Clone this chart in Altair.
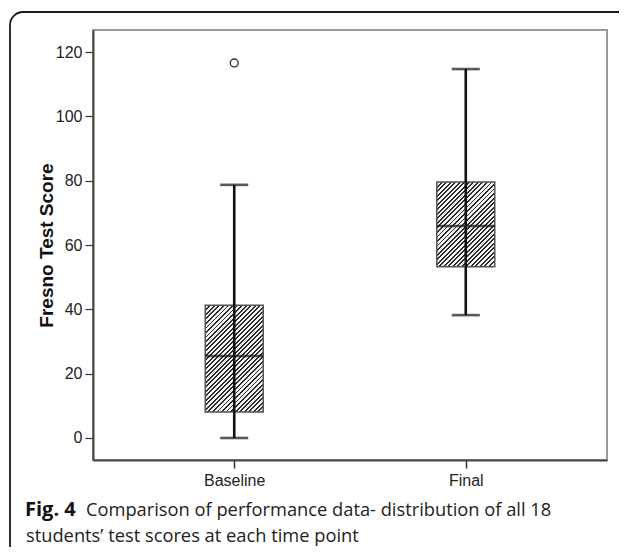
import altair as alt
import pandas as pd

# ---- data ----
groups = ["Baseline", "Final"]
lower_whisker = [0.0, 38.2]
q1 = [8.1, 53.2]
median = [25.5, 65.9]
q3 = [41.3, 79.6]
upper_whisker = [78.7, 114.7]
outlier_group = ["Baseline"]
outlier_value = [116.6]

y_ticks = [0, 20, 40, 60, 80, 100, 120]
y_title = "Fresno Test Score"
caption_label = "Fig. 4"
caption_line1 = "Comparison of performance data- distribution of all 18"
caption_line2 = "students\u2019 test scores at each time point"

# ---- layout / style ----
PLOT_W, PLOT_H = 514, 430
Y_MIN, Y_MAX = -6.84, 126.84
BOX_W = 58
CAP_W = 28
AXIS_FONT = "Liberation Sans"
CAP_FONT = "Open Sans"

df = pd.DataFrame({"group": groups, "low": lower_whisker, "q1": q1,
                   "median": median, "q3": q3, "high": upper_whisker})
out_df = pd.DataFrame({"group": outlier_group, "value": outlier_value})

xscale = alt.Scale(type="point", domain=groups, padding=0.61)
yscale = alt.Scale(domain=[Y_MIN, Y_MAX], nice=False, zero=False)
xaxis = alt.Axis(title=None, labelFont=AXIS_FONT, labelFontSize=16, labelColor="#222",
                 labelAngle=0, labelBaseline="top", labelAlign="center",
                 tickColor="#333", tickSize=8, tickWidth=1.5, domainColor="#444",
                 domainWidth=2, labelPadding=4, grid=False)
yaxis = alt.Axis(title=y_title, values=y_ticks, labelFont=AXIS_FONT, labelFontSize=16,
                 labelColor="#222", tickColor="#333", tickSize=8, tickWidth=1.2,
                 domainColor="#444", domainWidth=2, labelPadding=3, grid=False,
                 titleFont=AXIS_FONT, titleFontSize=19, titleFontWeight="bold",
                 titleColor="#111", titleX=-41, titleY=PLOT_H / 2, titleAngle=-90,
                 titleAlign="center", titleBaseline="alphabetic")

X = lambda: alt.X("group:N", scale=xscale, axis=xaxis)
Y = lambda f: alt.Y(f"{f}:Q", scale=yscale, axis=yaxis)

px_per_unit = PLOT_H / (Y_MAX - Y_MIN)


def hatch(w, h, period=3.2, dark_frac=0.42, dark="#2a2a2a", light="#f4f4f4"):
    s = (w + h) / (w * w + h * h)
    n = (w + h) / (2 ** 0.5 * period)
    step = 1.0 / n
    stops = []
    k = 0
    while k * step < 1.0:
        a = k * step
        b = min(a + dark_frac * step, 1.0)
        c = min(a + step, 1.0)
        stops += [alt.GradientStop(offset=a, color=dark),
                  alt.GradientStop(offset=b, color=dark),
                  alt.GradientStop(offset=b, color=light),
                  alt.GradientStop(offset=c, color=light)]
        k += 1
    return alt.LinearGradient(gradient="linear", stops=stops,
                              x1=0, y1=0, x2=s * w, y2=s * h)


base = alt.Chart(df)

boxes = []
for i, g in enumerate(groups):
    h = (q3[i] - q1[i]) * px_per_unit
    boxes.append(
        base.transform_filter(alt.datum.group == g)
        .mark_bar(size=BOX_W, fill=hatch(BOX_W, h), stroke="#555", strokeWidth=1.5)
        .encode(x=X(), y=Y("q1"), y2="q3")
    )

whisker = base.mark_rule(color="#111", strokeWidth=2.6).encode(x=X(), y=Y("low"), y2="high")
med = base.mark_tick(color="#111", size=BOX_W, thickness=2.6).encode(x=X(), y=Y("median"))
cap_lo = base.mark_tick(color="#111", size=CAP_W, thickness=2.6).encode(x=X(), y=Y("low"))
cap_hi = base.mark_tick(color="#111", size=CAP_W, thickness=2.6).encode(x=X(), y=Y("high"))
outl = alt.Chart(out_df).mark_point(shape="circle", filled=False, size=62, color="#333",
                                   strokeWidth=1.4, opacity=1).encode(x=X(), y=Y("value"))

one = pd.DataFrame({"a": [0]})
frame = alt.Chart(one).mark_rect(fill=None, stroke="#1a1a1a", strokeWidth=1.8,
                                 cornerRadius=13).encode(
    x=alt.value(-83), x2=alt.value(547), y=alt.value(-18), y2=alt.value(540))

cap_df1 = pd.DataFrame({"t": [caption_label]})
cap_df2 = pd.DataFrame({"t": [caption_line1]})
cap_df3 = pd.DataFrame({"t": [caption_line2]})
cap_a = alt.Chart(cap_df1).mark_text(font=CAP_FONT, fontSize=20, fontWeight="bold",
                                     align="left", baseline="alphabetic", color="#111").encode(
    x=alt.value(-68), y=alt.value(486), text="t:N")
cap_b = alt.Chart(cap_df2).mark_text(font=CAP_FONT, fontSize=18.3, align="left",
                                     baseline="alphabetic", color="#222").encode(
    x=alt.value(-7), y=alt.value(486), text="t:N")
cap_c = alt.Chart(cap_df3).mark_text(font=CAP_FONT, fontSize=18.3, align="left",
                                     baseline="alphabetic", color="#222").encode(
    x=alt.value(-67), y=alt.value(512), text="t:N")

chart = alt.layer(frame, *boxes, whisker, med, cap_lo, cap_hi, outl, cap_a, cap_b, cap_c).properties(
    width=PLOT_W, height=PLOT_H,
    autosize=alt.AutoSizeParams(type="none"),
    padding={"left": 85, "top": 22, "right": 12, "bottom": 87},
    background="white",
).configure_view(stroke="#9a9a9a", strokeWidth=2)

chart.save("out.html", embed_options={"renderer": "svg", "actions": False})
